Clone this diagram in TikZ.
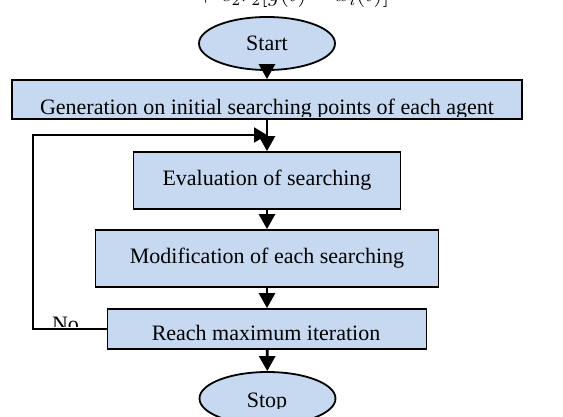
\documentclass[tikz,border=0pt]{standalone}
\usepackage{fontspec}
\setmainfont{Liberation Serif}
\usetikzlibrary{arrows.meta,shapes.geometric}

\definecolor{boxblue}{RGB}{198,217,241}

\begin{document}
\begin{tikzpicture}[
  x=0.5pt, y=-0.5pt,
  txt/.style={font=\fontsize{11}{13}\selectfont, inner sep=0pt},
  box/.style={draw, line width=0.9pt, fill=boxblue, txt, align=center},
  term/.style={draw, ellipse, line width=0.9pt, fill=boxblue, txt, minimum width=68pt, minimum height=26.5pt},
  flow/.style={-{Triangle[width=8pt,length=7.5pt]}, line width=1.4pt},
  loop/.style={-{Triangle[width=7.5pt,length=6.5pt]}, line width=1pt}
]
\useasboundingbox (0,0) rectangle (563,417);
\clip (0,0) rectangle (563,417);

% formula cut off at the top of the page
\node[txt, font=\fontsize{12}{14}\selectfont, anchor=base] (eqn) at (293,2) {$+\;c_2r_2[g(t)-x_i(t)]$};

\node[term] (start) at (267,43.5) {Start};
\node[box, minimum width=255pt, minimum height=19.5pt] (gen) at (267,99.5) {};
\node[box, minimum width=133.5pt, minimum height=28.5pt] (eval) at (267,180.5) {Evaluation of searching};
\node[box, minimum width=171.5pt, minimum height=28.5pt] (mod) at (267,258.5) {Modification of each searching};
\node[box, minimum width=159.5pt, minimum height=20pt] (reach) at (267,329) {};
\node[term] (stop) at (267.5,398.5) {};

% texts cut at the bottom
\begin{scope}
\clip (gen.north west) rectangle ([yshift=1.75pt]gen.south east);
\node[txt, anchor=base] (gentext) at (267,115) {Generation on initial searching points of each agent};
\end{scope}
\begin{scope}
\clip (reach.north west) rectangle ([yshift=4.25pt]reach.south east);
\node[txt, anchor=base] (reachtext) at (266,340.5) {Reach maximum iteration};
\end{scope}
\begin{scope}
\clip (200,372) rectangle (336,408);
\node[txt, anchor=base] (stoptext) at (267,407.5) {Stop};
\end{scope}
\begin{scope}
\clip (40,300) rectangle (90,326.5);
\node[txt, anchor=base] (no) at (65.5,331.5) {No};
\end{scope}

\coordinate (join) at (267,135);

\draw[flow] (start) -- (gen);
\draw[flow] (gen) -- (eval);
\draw[flow] (eval) -- (mod);
\draw[flow] (mod) -- (reach);
\draw[flow] (reach) -- (stop);
\draw[loop] (reach.west) -- ++(-74,0) |- (join);
\end{tikzpicture}
\end{document}
